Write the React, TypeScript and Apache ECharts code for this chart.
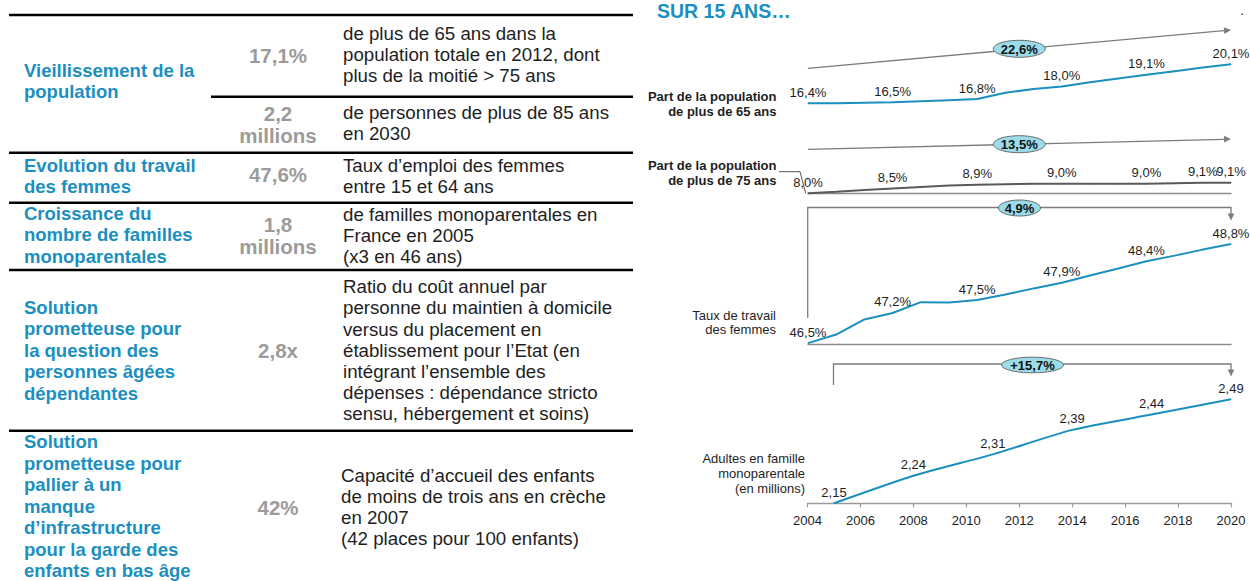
import React, { useEffect, useRef } from 'react';
import * as echarts from 'echarts';

// ---------------- Data ----------------
const TITLE = 'SUR 15 ANS…';

const rowLabels: string[][] = [
  ['Vieillissement de la', 'population'],
  ['Evolution du travail', 'des femmes'],
  ['Croissance du', 'nombre de familles', 'monoparentales'],
  ['Solution', 'prometteuse pour', 'la question des', 'personnes âgées', 'dépendantes'],
  ['Solution', 'prometteuse pour', 'pallier à un', 'manque', 'd’infrastructure', 'pour la garde des', 'enfants en bas âge'],
];
const keyFigures: string[][] = [
  ['17,1%'],
  ['2,2', 'millions'],
  ['47,6%'],
  ['1,8', 'millions'],
  ['2,8x'],
  ['42%'],
];
const figureDescriptions: string[][] = [
  ['de plus de 65 ans dans la', 'population totale en 2012, dont', 'plus de la moitié > 75 ans'],
  ['de personnes de plus de 85 ans', 'en 2030'],
  ['Taux d’emploi des femmes', 'entre 15 et 64 ans'],
  ['de familles monoparentales en', 'France en 2005', '(x3 en 46 ans)'],
  ['Ratio du coût annuel par', 'personne du maintien à domicile', 'versus du placement en', 'établissement pour l’Etat (en', 'intégrant l’ensemble des', 'dépenses : dépendance stricto', 'sensu, hébergement et soins)'],
  ['Capacité d’accueil des enfants', 'de moins de trois ans en crèche', 'en 2007', '(42 places pour 100 enfants)'],
];

const panelSteps = ['2005', '2006', '2007', '2008', '2009', '2010', '2011', '2012', '2013', '2014', '2015', '2016', '2017', '2018', '2019', '2020'];
const share65 = [16.4, 16.4, 16.45, 16.5, 16.6, 16.7, 16.8, 17.4, 17.75, 18.0, 18.4, 18.75, 19.1, 19.45, 19.8, 20.1];
const share65Labeled = [0, 3, 6, 9, 12, 15];
const share75 = [8.0, 8.15, 8.35, 8.5, 8.65, 8.8, 8.9, 8.95, 9.0, 9.0, 9.0, 9.0, 9.0, 9.05, 9.1, 9.1];
const share75Labeled = [0, 3, 6, 9, 12, 14, 15];
const womenWork = [46.5, 46.7, 47.05, 47.2, 47.45, 47.44, 47.5, 47.63, 47.77, 47.9, 48.07, 48.23, 48.4, 48.53, 48.67, 48.8];
const womenLabeled = [0, 3, 6, 9, 12, 15];
const loneYears = [2005, 2008, 2011, 2014, 2017, 2020];
const loneParents = [2.15, 2.24, 2.31, 2.39, 2.44, 2.49];
const axisYearMin = 2004;
const axisYearMax = 2020;
const axisYearStep = 2;
const growthBadges = ['22,6%', '13,5%', '4,9%', '+15,7%'];
const panelTitles: string[][] = [
  ['Part de la population', 'de plus de 65 ans'],
  ['Part de la population', 'de plus de 75 ans'],
  ['Taux de travail', 'des femmes'],
  ['Adultes en famille', 'monoparentale', '(en millions)'],
];

// ---------------- Layout / style ----------------
const FONT = '"Liberation Sans", Arial, sans-serif';
const BLUE = '#1b8fc0';
const GREY_FIG = '#9b9b9b';
const TXT = '#1e1e1e';
const BRACKET = '#7c7c7c';

const rowLabelTop = [70, 165, 213.3, 307.3, 441.7];
const figureTop = [55, 113, 174, 224, 350, 507];
const descTop = [33.5, 112.5, 165, 214.5, 286.7, 475];
const descX = [343, 343, 343, 343, 343, 341];
const separators = [
  { y: 15, x1: 9 },
  { y: 96.7, x1: 211 },
  { y: 152.7, x1: 9 },
  { y: 202.7, x1: 9 },
  { y: 270, x1: 9 },
  { y: 430.7, x1: 9 },
];

function pct1(v: number) {
  return v.toFixed(1).replace('.', ',') + '%';
}
function dec2(v: number) {
  return v.toFixed(2).replace('.', ',');
}

function arrowHead(tipX: number, tipY: number, fromX: number, fromY: number, len = 7, half = 3.3) {
  const dx = tipX - fromX;
  const dy = tipY - fromY;
  const L = Math.hypot(dx, dy);
  const ux = dx / L;
  const uy = dy / L;
  const bx = tipX - ux * len;
  const by = tipY - uy * len;
  return {
    type: 'polygon',
    z: 50,
    shape: { points: [[tipX, tipY], [bx - uy * half, by + ux * half], [bx + uy * half, by - ux * half]] },
    style: { fill: BRACKET },
  };
}

function badge(cx: number, cy: number, rx: number, ry: number, text: string) {
  return [
    {
      type: 'ellipse',
      z: 60,
      shape: { cx, cy, rx, ry },
      style: { fill: '#9bdcea', stroke: '#6a6a6a', lineWidth: 1 },
    },
    {
      type: 'text',
      z: 61,
      x: cx,
      y: cy + 0.5,
      style: { text, font: `bold 13px ${FONT}`, fill: '#111', textAlign: 'center', textVerticalAlign: 'middle' },
    },
  ];
}

function textLines(lines: string[], x: number, top: number, step: number, font: string, fill: string, align: string) {
  return lines.map((t, i) => ({
    type: 'text',
    x,
    y: top + i * step,
    style: { text: t, font, fill, textAlign: align, textVerticalAlign: 'middle' },
  }));
}

function lineSeries(values: number[], labeled: number[], axis: number, color: string, fmt: (v: number) => string) {
  return {
    type: 'line',
    xAxisIndex: axis,
    yAxisIndex: axis,
    data: values.map((v, i) => ({ value: v, label: { show: labeled.includes(i) } })),
    symbol: 'circle',
    symbolSize: 1,
    itemStyle: { color },
    lineStyle: { color, width: 2 },
    clip: false,
    label: {
      show: false,
      position: 'top',
      distance: 4,
      fontSize: 13,
      fontFamily: FONT,
      color: TXT,
      formatter: (p: any) => fmt(p.value),
    },
  };
}

export default function App() {
  const ref = useRef<HTMLDivElement>(null);

  useEffect(() => {
    if (!ref.current) return;
    const chart = echarts.init(ref.current, undefined, { renderer: 'svg' });

    const graphics: any[] = [];
    // Title
    graphics.push({
      type: 'text', x: 657, y: 0.5,
      style: { text: TITLE, font: `bold 19.5px ${FONT}`, fill: BLUE, textAlign: 'left', textVerticalAlign: 'top' },
    });
    graphics.push({
      type: 'text', x: 1242, y: 10,
      style: { text: '.', font: `13px ${FONT}`, fill: '#111', textAlign: 'center', textVerticalAlign: 'middle' },
    });

    // Table separators
    separators.forEach((s) => {
      graphics.push({ type: 'line', shape: { x1: s.x1, y1: s.y, x2: 633, y2: s.y }, style: { stroke: '#000', lineWidth: 2.5 } });
    });
    // Table texts
    rowLabels.forEach((lines, i) => {
      graphics.push(...textLines(lines, 24, rowLabelTop[i], 21.5, `bold 18.5px ${FONT}`, BLUE, 'left'));
    });
    keyFigures.forEach((lines, i) => {
      graphics.push(...textLines(lines, 278, figureTop[i], 22.5, `bold 20.5px ${FONT}`, GREY_FIG, 'center'));
    });
    figureDescriptions.forEach((lines, i) => {
      graphics.push(...textLines(lines, descX[i], descTop[i], 21.2, `18.7px ${FONT}`, TXT, 'left'));
    });

    // Panel titles
    graphics.push(...textLines(panelTitles[0], 776.5, 96.7, 15, `bold 13px ${FONT}`, TXT, 'right'));
    graphics.push(...textLines(panelTitles[1], 776.5, 165, 15, `bold 13px ${FONT}`, TXT, 'right'));
    graphics.push(...textLines(panelTitles[2], 776, 315, 14.5, `13px ${FONT}`, TXT, 'right'));
    graphics.push(...textLines(panelTitles[3], 805, 458.3, 15, `13px ${FONT}`, TXT, 'right'));

    // Leader line for 75+
    graphics.push({
      type: 'polyline',
      shape: { points: [[779, 171.7], [800, 171.7], [805.7, 193.3]] },
      style: { stroke: '#555', lineWidth: 1, fill: 'none' },
    });

    // Panel 1 slanted arrow
    graphics.push({ type: 'line', shape: { x1: 808, y1: 68.3, x2: 1224, y2: 30.6 }, style: { stroke: BRACKET, lineWidth: 1.3 } });
    graphics.push(arrowHead(1231, 30, 808, 68.3));
    graphics.push(...badge(1019.3, 48.8, 26, 8.5, growthBadges[0]));

    // Panel 2 arrow
    graphics.push({ type: 'line', shape: { x1: 808, y1: 149.3, x2: 1224, y2: 139.3 }, style: { stroke: BRACKET, lineWidth: 1.3 } });
    graphics.push(arrowHead(1231, 139, 808, 149.3));
    graphics.push(...badge(1019.3, 144.2, 26, 8.5, growthBadges[1]));

    // Panel 3 bracket
    graphics.push({
      type: 'polyline',
      shape: { points: [[807.7, 318], [807.7, 207.5], [1231, 207.5], [1231, 214]] },
      style: { stroke: BRACKET, lineWidth: 1.3, fill: 'none' },
    });
    graphics.push(arrowHead(1231, 220.5, 1231, 207.5));
    graphics.push(...badge(1019.5, 208, 21, 8, growthBadges[2]));

    // Panel 4 bracket
    graphics.push({
      type: 'polyline',
      shape: { points: [[833.5, 385], [833.5, 364], [1231, 364], [1231, 370]] },
      style: { stroke: BRACKET, lineWidth: 1.3, fill: 'none' },
    });
    graphics.push(arrowHead(1231, 376.5, 1231, 364));
    graphics.push(...badge(1032.5, 365, 31, 7.8, growthBadges[3]));

    const baseAxis = {
      type: 'category',
      data: panelSteps,
      boundaryGap: false,
      axisTick: { show: false },
      axisLabel: { show: false },
      splitLine: { show: false },
    };

    chart.setOption({
      animation: false,
      backgroundColor: '#ffffff',
      grid: [
        { left: 808, top: 64.3, width: 423, height: 39 },
        { left: 808, top: 182.7, width: 423, height: 10.6 },
        { left: 808, top: 244, width: 423, height: 100 },
        { left: 807.5, top: 399.3, width: 423.5, height: 104 },
      ],
      xAxis: [
        { ...baseAxis, gridIndex: 0, show: false },
        { ...baseAxis, gridIndex: 1, axisLine: { show: true, onZero: false, lineStyle: { color: '#8c8c8c', width: 1.3 } } },
        { ...baseAxis, gridIndex: 2, axisLine: { show: true, onZero: false, lineStyle: { color: '#8c8c8c', width: 1.3 } } },
        {
          gridIndex: 3,
          type: 'value',
          min: axisYearMin,
          max: axisYearMax,
          interval: axisYearStep,
          splitLine: { show: false },
          axisLine: { show: true, onZero: false, lineStyle: { color: '#9a9a9a', width: 1.3 } },
          axisTick: { show: true, length: 4, lineStyle: { color: '#9a9a9a', width: 1.2 } },
          axisLabel: { fontSize: 13, color: TXT, fontFamily: FONT, margin: 11, formatter: (v: number) => String(v) },
        },
      ],
      yAxis: [
        { gridIndex: 0, type: 'value', min: 16.4, max: 20.1, show: false },
        { gridIndex: 1, type: 'value', min: 8.0, max: 9.1, show: false },
        { gridIndex: 2, type: 'value', min: 46.48, max: 48.8, show: false },
        { gridIndex: 3, type: 'value', min: 2.15, max: 2.49, show: false },
      ],
      series: [
        lineSeries(share65, share65Labeled, 0, BLUE, pct1),
        lineSeries(share75, share75Labeled, 1, '#5a5a5a', pct1),
        lineSeries(womenWork, womenLabeled, 2, BLUE, pct1),
        {
          ...lineSeries(loneParents, [0, 1, 2, 3, 4, 5], 3, BLUE, dec2),
          smooth: 0.2,
          data: loneParents.map((v, i) => ({ value: [loneYears[i], v], label: { show: true } })),
          label: {
            show: true,
            position: 'top',
            distance: 4,
            fontSize: 13,
            fontFamily: FONT,
            color: TXT,
            formatter: (p: any) => dec2(p.value[1]),
          },
        },
      ],
      graphic: graphics,
    });

    return () => chart.dispose();
  }, []);

  return (
    <div
      ref={ref}
      style={{ position: 'absolute', left: 0, top: 0, width: 1250, height: 581, background: '#fff' }}
    />
  );
}
